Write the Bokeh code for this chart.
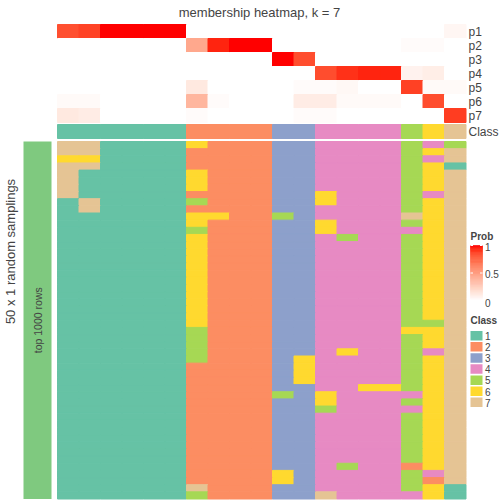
import numpy as np
from bokeh.plotting import figure
from bokeh.models import Range1d, Label, ColumnDataSource
from bokeh.transform import linear_cmap, factor_cmap
from bokeh.embed import file_html
from bokeh.resources import INLINE

# ---------------- data ----------------
title_text = "membership heatmap, k = 7"
row_title = "50 x 1 random samplings"
row_group = "top 1000 rows"
prob_names = ["p1", "p2", "p3", "p4", "p5", "p6", "p7"]
class_levels = ["1", "2", "3", "4", "5", "6", "7"]
class_colors = ["#66C2A5", "#FC8D62", "#8DA0CB", "#E78AC3", "#A6D854", "#FFD92F", "#E5C494"]

consensus_class = ["1", "1", "1", "1", "1", "1", "2", "2", "2", "2", "3", "3", "4", "4", "4", "4", "5", "6", "7"]

p1 = [0.84, 0.88, 1, 1, 1, 1, 0, 0, 0, 0, 0, 0, 0, 0, 0, 0, 0, 0, 0.05]
p2 = [0, 0, 0, 0, 0, 0, 0.45, 0.96, 1, 1, 0, 0, 0, 0, 0, 0, 0.02, 0.02, 0]
p3 = [0, 0, 0, 0, 0, 0, 0, 0, 0, 0, 1, 0.85, 0, 0, 0, 0, 0, 0, 0]
p4 = [0, 0, 0, 0, 0, 0, 0, 0, 0, 0, 0, 0, 0.85, 0.93, 0.96, 0.96, 0.07, 0.09, 0]
p5 = [0, 0, 0, 0, 0, 0, 0.12, 0, 0, 0, 0, 0.02, 0.02, 0.04, 0, 0, 0.89, 0.03, 0.03]
p6 = [0.03, 0.03, 0, 0, 0, 0, 0.38, 0.02, 0, 0, 0, 0.1, 0.1, 0.03, 0.03, 0.03, 0, 0.85, 0]
p7 = [0.12, 0.1, 0, 0, 0, 0, 0.02, 0, 0, 0, 0, 0.02, 0.02, 0, 0, 0, 0, 0, 0.9]

# class assigned in each of the 50 samplings (one string per sampling, one char per column)
sampling_classes = [
    "7711116222334444545",
    "7711112222334444567",
    "6611112222334444547",
    "7711112222334444561",
    "7111116222334444567",
    "7111116222334444567",
    "7111116222334444567",
    "7111112222336444547",
    "1711115222336444567",
    "1711112222334444567",
    "1111116622534444767",
    "1111116222336444567",
    "1111115222336444467",
    "1111116222334544567",
    "1111116222334444567",
    "1111116222334444567",
    "1111116222334444567",
    "1111116222334444567",
    "1111116222334444567",
    "1111116222334444567",
    "1111116222334444567",
    "1111116222334444567",
    "1111116222334444567",
    "1111116222334444567",
    "1111116222334444567",
    "1111116222334444557",
    "1111115222334444667",
    "1111115222334444567",
    "1111115222334444567",
    "1111115222334644547",
    "1111115222364444567",
    "1111112222364444567",
    "1111112222364444567",
    "1111112222364444567",
    "1111112222334466567",
    "1111112222536444467",
    "1111112222336444567",
    "1111112222335444467",
    "1111112222334444567",
    "1111112222334444567",
    "1111112222334444567",
    "1111112222334444567",
    "1111112222334444567",
    "1111112222334444567",
    "1111112222334444567",
    "1111112222334544267",
    "1111112222634444547",
    "1111112222634444527",
    "1111117222334444561",
    "1111115222337444461",
]

# ---------------- colour ramp white -> red in LAB ----------------
def _lin(c):
    c = np.asarray(c, float) / 255.0
    return np.where(c <= 0.04045, c / 12.92, ((c + 0.055) / 1.055) ** 2.4)

def _gam(c):
    c = np.clip(c, 0, 1)
    return np.where(c <= 0.0031308, 12.92 * c, 1.055 * c ** (1 / 2.4) - 0.055)

M = np.array([[0.4124, 0.3576, 0.1805], [0.2126, 0.7152, 0.0722], [0.0193, 0.1192, 0.9505]])
Minv = np.linalg.inv(M)
WHITE = np.array([0.95047, 1.0, 1.08883])

def _f(t):
    d = 6 / 29
    return np.where(t > d ** 3, np.cbrt(t), t / (3 * d * d) + 4 / 29)

def _finv(t):
    d = 6 / 29
    return np.where(t > d, t ** 3, 3 * d * d * (t - 4 / 29))

def rgb2lab(rgb):
    xyz = M @ _lin(rgb) / WHITE
    fx, fy, fz = _f(xyz)
    return np.array([116 * fy - 16, 500 * (fx - fy), 200 * (fy - fz)])

def lab2hex(lab):
    L, a, b = lab
    fy = (L + 16) / 116
    xyz = np.array([_finv(fy + a / 500), _finv(fy), _finv(fy - b / 200)]) * WHITE
    rgb = np.round(_gam(Minv @ xyz) * 255).astype(int)
    return "#%02x%02x%02x" % tuple(rgb)

lab_w = rgb2lab([255, 255, 255])
lab_r = rgb2lab([255, 0, 0])
prob_palette = [lab2hex(lab_w + (lab_r - lab_w) * t) for t in np.linspace(0, 1, 256)]

# ---------------- layout (picture pixels) ----------------
HX0, CW = 57.0, 21.5
PY0, PH = 24.0, 14.0
CY0, CH = 124.0, 14.0
MY0, MY1 = 141.0, 498.5
ncol = len(consensus_class)
nrow = len(sampling_classes)
MH = (MY1 - MY0) / nrow

FONT = "Liberation Sans"

p = figure(width=504, height=504, output_backend="svg", toolbar_location=None,
           x_range=Range1d(0, 504), y_range=Range1d(504, 0),
           x_axis_location=None, y_axis_location=None, min_border=0)
p.grid.visible = False
p.outline_line_color = None
p.background_fill_color = "white"

# probability rows
probs = [p1, p2, p3, p4, p5, p6, p7]
L, R, T, B, V = [], [], [], [], []
for i, row in enumerate(probs):
    for j, v in enumerate(row):
        L.append(HX0 + j * CW); R.append(HX0 + (j + 1) * CW)
        T.append(PY0 + i * PH); B.append(PY0 + (i + 1) * PH)
        V.append(v)
src_p = ColumnDataSource(dict(left=L, right=R, top=T, bottom=B, v=V))
pm = linear_cmap("v", prob_palette, low=0, high=1)
p.quad(left="left", right="right", top="top", bottom="bottom", source=src_p,
       fill_color=pm, line_color=pm, line_width=1)

# class annotation row + main heatmap
L, R, T, B, C = [], [], [], [], []
for j, c in enumerate(consensus_class):
    L.append(HX0 + j * CW); R.append(HX0 + (j + 1) * CW)
    T.append(CY0); B.append(CY0 + CH); C.append(c)
for i, s in enumerate(sampling_classes):
    for j, c in enumerate(s):
        L.append(HX0 + j * CW); R.append(HX0 + (j + 1) * CW)
        T.append(MY0 + i * MH); B.append(MY0 + (i + 1) * MH); C.append(c)
src_c = ColumnDataSource(dict(left=L, right=R, top=T, bottom=B, c=C))
cm = factor_cmap("c", class_colors, class_levels)
p.quad(left="left", right="right", top="top", bottom="bottom", source=src_c,
       fill_color=cm, line_color=cm, line_width=1)

# left group bar
p.quad(left=[23], right=[51], top=[MY0], bottom=[MY1], fill_color="#7FC97F", line_color=None)

# texts
p.add_layout(Label(x=259, y=12, text=title_text, text_font=FONT, text_font_size="13px",
                   text_align="center", text_baseline="middle"))
p.add_layout(Label(x=10, y=251, text=row_title, text_font=FONT, text_font_size="13px",
                   text_align="center", text_baseline="middle", angle=np.pi / 2))
p.add_layout(Label(x=37, y=(MY0 + MY1) / 2, text=row_group, text_font=FONT, text_font_size="10.5px",
                   text_align="center", text_baseline="middle", angle=np.pi / 2))
for i, name in enumerate(prob_names + ["Class"]):
    yc = PY0 + (i + 0.5) * PH if i < 7 else CY0 + CH / 2
    p.add_layout(Label(x=468, y=yc, text=name, text_font=FONT, text_font_size="12px",
                       text_align="left", text_baseline="middle"))

# legend: Prob
LX = 470
p.add_layout(Label(x=LX, y=236, text="Prob", text_font=FONT, text_font_size="10px",
                   text_font_style="bold", text_align="left", text_baseline="middle"))
bar_top, bar_bot = 245.0, 300.0
ts = np.linspace(0, 1, 60)
hstep = (bar_bot - bar_top) / len(ts)
src_bar = ColumnDataSource(dict(
    left=[LX] * len(ts), right=[LX + 12] * len(ts),
    bottom=[bar_bot - k * hstep for k in range(len(ts))],
    top=[bar_bot - (k + 1) * hstep for k in range(len(ts))], v=list(ts)))
p.quad(left="left", right="right", top="top", bottom="bottom", source=src_bar,
       fill_color=pm, line_color=pm, line_width=0.6)
for tv, tl in [(1, "1"), (0.5, "0.5"), (0, "0")]:
    yy = bar_bot - tv * (bar_bot - bar_top)
    if tv > 0:
        p.segment(x0=[LX, LX + 9.5], x1=[LX + 2.5, LX + 12], y0=[yy, yy], y1=[yy, yy],
                  line_color="white", line_width=1)
    p.add_layout(Label(x=LX + 14.5, y=yy + (2 if tv == 0 else 1), text=tl, text_font=FONT,
                       text_font_size="10px", text_align="left", text_baseline="middle"))

# legend: Class
p.add_layout(Label(x=LX, y=320, text="Class", text_font=FONT, text_font_size="10px",
                   text_font_style="bold", text_align="left", text_baseline="middle"))
sw_top = [330.5 + k * 11.1 for k in range(len(class_levels))]
src_sw = ColumnDataSource(dict(left=[LX] * 7, right=[LX + 12] * 7, top=sw_top,
                               bottom=[t + 9.5 for t in sw_top], c=class_levels))
p.quad(left="left", right="right", top="top", bottom="bottom", source=src_sw,
       fill_color=cm, line_color=None)
for k, lab in enumerate(class_levels):
    p.add_layout(Label(x=LX + 14.5, y=sw_top[k] + 5, text=lab, text_font=FONT,
                       text_font_size="10px", text_align="left", text_baseline="middle"))

open("out.html", "w").write(file_html(p, INLINE))
